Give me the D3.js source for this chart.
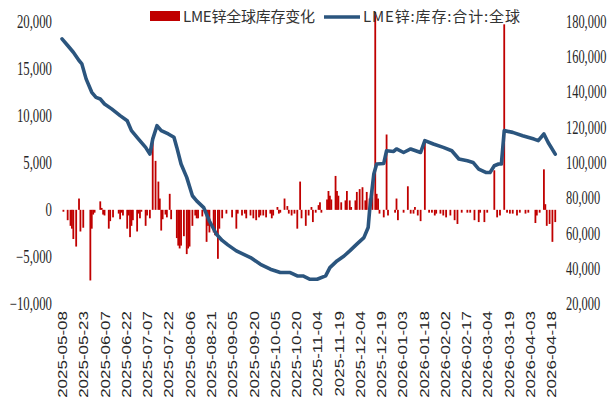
<!DOCTYPE html>
<html>
<head>
<meta charset="utf-8">
<script src="https://cdn.jsdelivr.net/npm/d3@7"></script>
<style>
  body { margin: 0; background: #fff; }
  svg { display: block; }
</style>
</head>
<body>
<script>
var width = 614,
    height = 408;

var barColor = '#c00000',
    lineColor = '#2b557e';

// LME锌:库存:合计:全球 (吨)
var stockDates = [
  '2025-05-08','2025-05-12','2025-05-16','2025-05-20','2025-05-22','2025-05-25','2025-05-29',
  '2025-06-01','2025-06-04','2025-06-07','2025-06-12','2025-06-18','2025-06-23','2025-06-26',
  '2025-07-01','2025-07-06','2025-07-09','2025-07-11','2025-07-14','2025-07-17','2025-07-22',
  '2025-07-26','2025-07-28','2025-07-31','2025-08-04','2025-08-08','2025-08-11','2025-08-16',
  '2025-08-20','2025-08-25','2025-08-29','2025-09-02','2025-09-08','2025-09-18','2025-09-25',
  '2025-10-02','2025-10-09','2025-10-16','2025-10-21','2025-10-25','2025-10-30','2025-11-04',
  '2025-11-10','2025-11-13','2025-11-18','2025-11-23','2025-11-27','2025-12-02','2025-12-07',
  '2025-12-10','2025-12-11','2025-12-14','2025-12-16','2025-12-21','2025-12-23','2025-12-28',
  '2025-12-30','2026-01-04','2026-01-09','2026-01-16','2026-01-19','2026-01-25','2026-02-01',
  '2026-02-07','2026-02-12','2026-02-18','2026-02-22','2026-02-26','2026-03-03','2026-03-06',
  '2026-03-09','2026-03-12','2026-03-14','2026-03-16','2026-03-22','2026-03-29','2026-04-06',
  '2026-04-09','2026-04-13','2026-04-16','2026-04-21'
];
var stockValues = [
  170200,166400,162600,157900,156000,147500,139900,
  137000,136100,133300,130500,126700,123800,118200,
  113400,108700,104900,113400,121000,118200,116300,
  114400,108700,99300,91700,81300,78400,74600,
  67000,59500,56000,53500,50100,46300,42500,
  39700,37800,37800,35900,35900,34000,34000,
  35900,40600,44400,47200,50100,53900,57600,
  63300,72800,93600,99300,99600,106800,106400,
  107800,105800,107800,105800,112500,110600,108700,
  106800,102100,101100,100200,96400,94500,94500,
  98300,99300,99300,118200,117200,115300,113400,
  112500,116300,111500,104900
];

// LME锌全球库存变化 (吨)
var changeDates = [
  '2025-05-09','2025-05-12','2025-05-14','2025-05-15','2025-05-16','2025-05-18','2025-05-20',
  '2025-05-21','2025-05-23','2025-05-28','2025-05-29','2025-05-30','2025-05-31','2025-06-04',
  '2025-06-05','2025-06-06','2025-06-07','2025-06-10','2025-06-11','2025-06-13','2025-06-17',
  '2025-06-18','2025-06-19','2025-06-20','2025-06-23','2025-06-24','2025-06-25','2025-06-26',
  '2025-06-27','2025-06-30','2025-07-01','2025-07-02','2025-07-03','2025-07-06','2025-07-07',
  '2025-07-09','2025-07-11','2025-07-13','2025-07-15','2025-07-16','2025-07-17','2025-07-18',
  '2025-07-20','2025-07-21','2025-07-23','2025-07-24','2025-07-28','2025-07-29','2025-07-30',
  '2025-07-31','2025-08-02','2025-08-04','2025-08-05','2025-08-06','2025-08-08','2025-08-10',
  '2025-08-11','2025-08-12','2025-08-15','2025-08-18','2025-08-19','2025-08-20','2025-08-23',
  '2025-08-24','2025-08-26','2025-08-27','2025-08-29',
  '2025-09-01','2025-09-05','2025-09-08','2025-09-09','2025-09-12','2025-09-14','2025-09-15',
  '2025-09-18','2025-09-20','2025-09-22','2025-09-24','2025-09-25','2025-09-27','2025-09-29',
  '2025-10-02','2025-10-03','2025-10-04','2025-10-07','2025-10-08','2025-10-09','2025-10-12',
  '2025-10-14','2025-10-15','2025-10-17','2025-10-19','2025-10-21','2025-10-23','2025-10-24',
  '2025-10-27','2025-10-29','2025-10-31','2025-11-01','2025-11-03','2025-11-05','2025-11-06',
  '2025-11-07','2025-11-11','2025-11-12','2025-11-13','2025-11-14','2025-11-17','2025-11-18',
  '2025-11-19','2025-11-21','2025-11-24','2025-11-25','2025-11-27','2025-11-28','2025-12-01',
  '2025-12-02','2025-12-04','2025-12-06','2025-12-08','2025-12-09','2025-12-11','2025-12-13',
  '2025-12-15','2025-12-16','2025-12-17','2025-12-18','2025-12-21','2025-12-23','2025-12-24',
  '2025-12-29','2025-12-30','2025-12-31','2026-01-04','2026-01-07','2026-01-09','2026-01-11',
  '2026-01-12','2026-01-14','2026-01-16','2026-01-19','2026-01-22','2026-01-24','2026-01-26',
  '2026-01-27','2026-01-30','2026-02-01','2026-02-03','2026-02-06','2026-02-09','2026-02-11',
  '2026-02-14','2026-02-18','2026-02-20','2026-02-23','2026-02-26','2026-02-27','2026-03-02',
  '2026-03-04','2026-03-09','2026-03-11','2026-03-13','2026-03-16','2026-03-18','2026-03-20',
  '2026-03-22','2026-03-25','2026-03-27','2026-03-31','2026-04-02','2026-04-07','2026-04-08',
  '2026-04-10','2026-04-13','2026-04-14','2026-04-15','2026-04-17','2026-04-19','2026-04-21'
];
var changeValues = [
  -200,-1100,-1700,-2000,-3100,-3900,1200,
  -2300,-1900,-7500,-2000,-500,-300,900,
  200,-500,-600,-2000,-1200,-800,-400,
  -1000,-300,-600,-2000,-600,-2900,-1700,
  -1100,-2300,-400,-900,-200,-1700,-600,
  -900,7700,5200,3000,1200,-2200,-1000,
  -500,-800,1700,-1000,-3000,-3800,-4100,
  -3800,-2800,-4700,-4100,-3900,-1700,-600,
  -900,-900,-700,-3400,-1700,-2400,-2400,
  -2700,-5200,-2000,-900,
  -400,-800,-2000,-400,-600,-400,-900,
  -600,-900,-1100,-800,-600,-600,-800,
  -400,-900,-600,300,-400,-300,1200,
  400,-400,-600,-400,-2000,3000,-900,
  -1700,-600,300,-1300,-300,500,800,
  -300,1100,2000,1500,1100,3600,2000,
  1500,800,1000,2000,1000,300,1000,
  1900,2200,2400,1000,1900,1200,2200,
  21000,1700,1200,-400,-800,8000,-600,
  -300,1200,-1100,-300,2500,-400,-400,
  300,-600,-1200,7500,-300,-300,-600,
  -400,-400,-600,-800,-600,-1100,-1500,
  -300,-300,-300,-1100,-1300,-300,-1300,
  -300,4200,-800,-600,19700,-300,-400,
  -400,-600,-300,-400,-300,-1400,-600,
  -300,4300,600,-1700,-1500,-3400,-1300
];

var xTickLabels = [
  '2025-05-08','2025-05-23','2025-06-07','2025-06-22','2025-07-07','2025-07-22',
  '2025-08-06','2025-08-21','2025-09-05','2025-09-20','2025-10-05','2025-10-20',
  '2025-11-04','2025-11-19','2025-12-04','2025-12-19','2026-01-03','2026-01-18',
  '2026-02-02','2026-02-17','2026-03-04','2026-03-19','2026-04-03','2026-04-18'
];
var leftTicks = [-10000, -5000, 0, 5000, 10000, 15000, 20000];
var rightTicks = [20000, 40000, 60000, 80000, 100000, 120000, 140000, 160000, 180000];

var parseDate = d3.timeParse('%Y-%m-%d');

var svg = d3.select('body')
      .append('svg')
      .attr('width', width)
      .attr('height', height);

var xScale = d3.scaleTime()
  .domain([parseDate(xTickLabels[0]), parseDate(xTickLabels[xTickLabels.length - 1])])
  .range([62, 551]);

var yLeft = d3.scaleLinear()
  .domain([-10000, 20000])
  .range([304, 21.5]);

var yRight = d3.scaleLinear()
  .domain([20000, 180000])
  .range([304, 21.5]);

// bars: daily change
svg.append('g')
  .selectAll('rect')
  .data(changeValues)
  .enter()
  .append('rect')
  .attr('x', (d, i) => xScale(parseDate(changeDates[i])) - 0.9)
  .attr('width', 1.8)
  .attr('y', d => yLeft(Math.max(0, d)))
  .attr('height', d => Math.abs(yLeft(d) - yLeft(0)))
  .attr('fill', barColor);

// line: total stock
var line = d3.line()
  .x((d, i) => xScale(parseDate(stockDates[i])))
  .y(d => yRight(d));

svg.append('path')
  .datum(stockValues)
  .attr('d', line)
  .attr('fill', 'none')
  .attr('stroke', lineColor)
  .attr('stroke-width', 3.6)
  .attr('stroke-linejoin', 'round')
  .attr('stroke-linecap', 'round');

// axes
var leftAxis = d3.axisLeft(yLeft)
  .tickValues(leftTicks)
  .tickSize(0)
  .tickPadding(0)
  .tickFormat(d3.format(','));

var gLeft = svg.append('g')
  .attr('transform', 'translate(52,0)')
  .call(leftAxis)
  .attr('font-family', '"Liberation Serif", serif')
  .attr('font-size', 18);
gLeft.select('.domain').remove();
gLeft.selectAll('text')
  .attr('x', 0)
  .attr('fill', '#262626')
  .attr('transform', 'scale(0.71,1)');

var rightAxis = d3.axisRight(yRight)
  .tickValues(rightTicks)
  .tickSize(0)
  .tickPadding(0)
  .tickFormat(d3.format(','));

var gRight = svg.append('g')
  .attr('transform', 'translate(566,0)')
  .call(rightAxis)
  .attr('font-family', '"Liberation Serif", serif')
  .attr('font-size', 18);
gRight.select('.domain').remove();
gRight.selectAll('text')
  .attr('x', 0)
  .attr('fill', '#262626')
  .attr('transform', 'scale(0.69,1)');

var bottomAxis = d3.axisBottom(xScale)
  .tickValues(xTickLabels.map(parseDate))
  .tickSize(0)
  .tickPadding(0)
  .tickFormat(d3.timeFormat('%Y-%m-%d'));

var gBottom = svg.append('g')
  .attr('transform', 'translate(0,311)')
  .call(bottomAxis)
  .attr('font-family', '"Liberation Sans", sans-serif')
  .attr('font-size', 17);
gBottom.select('.domain').remove();
gBottom.selectAll('text')
  .attr('x', 0)
  .attr('y', 0)
  .attr('dy', '0.36em')
  .attr('text-anchor', 'end')
  .attr('fill', '#262626')
  .attr('transform', 'scale(0.76,1) rotate(-90)');

// legend
var legend = svg.append('g')
  .attr('font-family', '"Noto Sans CJK SC", sans-serif')
  .attr('font-size', 15)
  .attr('fill', '#333');

legend.append('rect')
  .attr('x', 150)
  .attr('y', 11)
  .attr('width', 30)
  .attr('height', 10)
  .attr('fill', barColor);

legend.append('text')
  .attr('x', 183)
  .attr('y', 22)
  .attr('textLength', 132)
  .attr('lengthAdjust', 'spacing')
  .text('LME锌全球库存变化');

legend.append('line')
  .attr('x1', 324)
  .attr('x2', 360)
  .attr('y1', 17)
  .attr('y2', 17)
  .attr('stroke', lineColor)
  .attr('stroke-width', 3.6);

legend.append('text')
  .attr('x', 363)
  .attr('y', 22)
  .attr('textLength', 157)
  .attr('lengthAdjust', 'spacing')
  .text('LME锌:库存:合计:全球');
</script>
</body>
</html>
